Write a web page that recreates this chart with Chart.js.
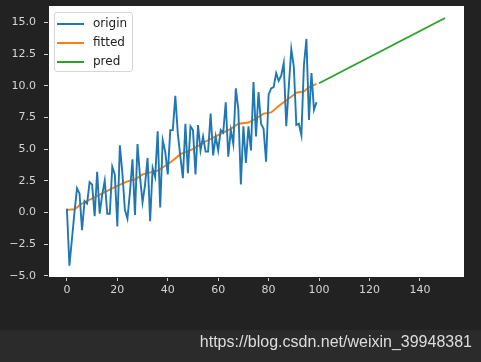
<!DOCTYPE html>
<html>
<head>
<meta charset="utf-8">
<script src="https://cdn.jsdelivr.net/npm/chart.js@4/dist/chart.umd.min.js"></script>
<style>
  html, body { margin: 0; padding: 0; background: #222222; }
  #wrap { position: relative; width: 481px; height: 362px; }
  #legend {
    position: absolute; left: 54px; top: 12px; width: 79px; height: 60px;
    box-sizing: border-box; border: 1px solid #d6d6d6; border-radius: 3px;
    background: rgba(255,255,255,0.8);
    font-family: "DejaVu Sans", sans-serif; font-size: 12px; color: #222;
  }
  #legend div { position: absolute; left: 2px; height: 19px; line-height: 19px; }
  #legend span.swatch { display: inline-block; width: 27px; height: 2px; vertical-align: middle; margin-right: 9px; }
  #mark {
    position: absolute; right: 9px; top: 333px;
    font-family: "Liberation Sans", Arial, sans-serif; font-size: 16px; color: #dddddd;
  }
</style>
</head>
<body>
<div id="wrap">
  <canvas id="grafico" width="481" height="362"></canvas>
  <div id="legend"></div>
  <div id="mark">https://blog.csdn.net/weixin_39948381</div>
</div>
<script>
// dados
var xTicks = [0, 20, 40, 60, 80, 100, 120, 140];
var yTicks = [-5, -2.5, 0, 2.5, 5, 7.5, 10, 12.5, 15];

var originY = [0.3, -4.2, -2.1, 0.0, 1.9, 1.5, -1.4, 0.9, 0.7, 2.4,
  2.2, -0.3, 3.2, -0.1, 1.4, 2.5, -0.1, -0.1, 3.6, 3.0,
  -1.1, 5.3, 3.1, 0.2, -0.5, 1.6, 4.2, -0.2, 5.4, 2.8,
  0.8, 2.2, 4.3, -0.7, 3.5, 2.8, 6.4, 0.4, 5.7, 4.8,
  3.0, 6.5, 6.5, 9.2, 6.2, 4.4, 2.7, 7.0, 3.1, 6.8,
  6.5, 3.0, 6.9, 4.9, 6.0, 4.8, 4.8, 7.8, 4.5, 6.0,
  4.9, 6.5, 6.3, 8.7, 4.4, 6.5, 5.4, 9.8, 8.1, 2.2,
  6.8, 3.9, 6.8, 4.9, 10.3, 6.0, 9.5, 7.0, 6.6, 4.0,
  9.3, 9.8, 9.9, 11.0, 10.4, 10.8, 11.8, 6.8, 9.9, 12.9,
  11.5, 6.9, 7.0, 6.1, 11.6, 13.7, 7.3, 11.0, 8.1, 8.7];

var fittedX = [0, 3, 6, 10, 15, 20, 24, 27, 30, 36, 40, 42, 45, 50, 55, 60, 65, 68, 72, 75, 78, 81, 84, 88, 90, 91, 94, 96, 99];
var fittedY = [0.2, 0.25, 0.7, 1.1, 1.6, 2.1, 2.45, 2.6, 3.0, 3.3, 3.8, 4.1, 4.6, 5.0, 5.6, 6.1, 6.6, 7.0, 7.1, 7.4, 7.8, 7.9, 8.4, 9.0, 9.3, 9.45, 9.55, 9.9, 10.15];

var predX = [100, 150];
var predY = [10.2, 15.35];

var origin = originY.map(function (v, i) { return { x: i, y: v }; });
var fitted = fittedX.map(function (v, i) { return { x: v, y: fittedY[i] }; });
var pred = predX.map(function (v, i) { return { x: v, y: predY[i] }; });

// fundo escuro, faixa de baixo e area branca do grafico
var fundo = {
  id: 'fundo',
  beforeDraw: function (chart) {
    var ctx = chart.ctx, a = chart.chartArea;
    ctx.save();
    ctx.fillStyle = '#222222';
    ctx.fillRect(0, 0, chart.width, chart.height);
    ctx.fillStyle = '#2b2b2b';
    ctx.fillRect(0, 330, chart.width, chart.height - 330);
    ctx.fillStyle = '#ffffff';
    ctx.fillRect(a.left, a.top, a.right - a.left, a.bottom - a.top);
    ctx.restore();
  }
};

var fonte = { family: 'DejaVu Sans', size: 11 };
var cinza = '#d4d4d4';

var grafico = new Chart(document.getElementById('grafico').getContext('2d'), {
  type: 'scatter',
  data: {
    datasets: [
      { label: 'origin', data: origin, borderColor: '#1f77b4', showLine: true, borderWidth: 1.9, pointRadius: 0 },
      { label: 'fitted', data: fitted, borderColor: '#ff7f0e', showLine: true, borderWidth: 1.9, pointRadius: 0 },
      { label: 'pred', data: pred, borderColor: '#2ca02c', showLine: true, borderWidth: 1.9, pointRadius: 0 }
    ]
  },
  options: {
    responsive: false,
    animation: false,
    layout: { padding: { left: 0, top: 6, right: 17, bottom: 0 } },
    plugins: { legend: { display: false }, tooltip: { enabled: false } },
    scales: {
      x: {
        type: 'linear', min: -7.5, max: 157.5,
        afterBuildTicks: function (s) { s.ticks = xTicks.map(function (v) { return { value: v }; }); },
        afterFit: function (s) { s.height = 85; s.paddingLeft = 0; s.paddingRight = 0; },
        grid: { drawOnChartArea: false, tickLength: 4, tickColor: cinza },
        border: { color: '#222222' },
        ticks: { color: cinza, font: fonte, padding: 3, maxRotation: 0,
          callback: function (v) { return String(v); } }
      },
      y: {
        type: 'linear', min: -5.1, max: 16.3,
        afterBuildTicks: function (s) { s.ticks = yTicks.map(function (v) { return { value: v }; }); },
        afterFit: function (s) { s.width = 48; s.paddingTop = 0; s.paddingBottom = 0; },
        grid: { drawOnChartArea: false, tickLength: 4, tickColor: cinza },
        border: { color: '#222222' },
        ticks: { color: cinza, font: fonte, padding: 8,
          callback: function (v) { return v.toFixed(1).replace('-', '\u2212'); } }
      }
    }
  },
  plugins: [fundo]
});

// legenda dentro do grafico
var leg = document.getElementById('legend');
grafico.data.datasets.forEach(function (d, i) {
  var row = document.createElement('div');
  row.style.top = (1 + i * 19) + 'px';
  row.innerHTML = '<span class="swatch" style="background:' + d.borderColor + '"></span>' + d.label;
  leg.appendChild(row);
});
</script>
</body>
</html>
